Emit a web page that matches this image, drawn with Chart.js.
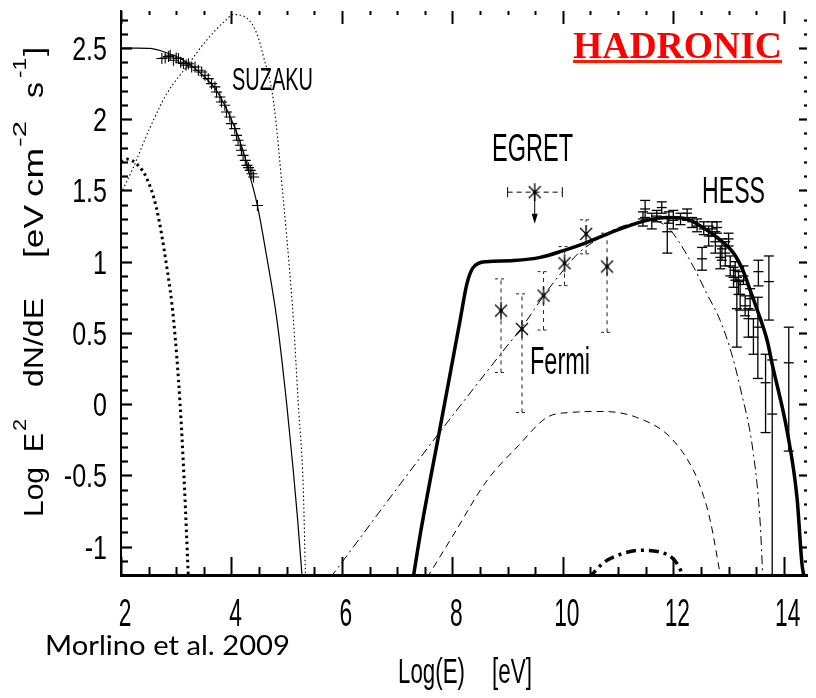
<!DOCTYPE html>
<html><head><meta charset="utf-8">
<script src="https://cdn.jsdelivr.net/npm/chart.js@4.4.1/dist/chart.umd.min.js"></script>
<style>html,body{margin:0;padding:0;background:#fff;}canvas{display:block}</style>
</head><body>
<canvas id="c" width="816" height="698"></canvas>
<script>
// ---------- axis ticks ----------
const xTickValues = [2, 4, 6, 8, 10, 12, 14];
const yTickValues = [-1, -0.5, 0, 0.5, 1, 1.5, 2, 2.5];

// ---------- model curves ----------
const syncX = [2.0, 2.3, 2.53, 2.8, 3.13, 3.45, 3.73, 4.03, 4.21, 4.34, 4.47, 4.64, 4.82, 5.0, 5.12, 5.2, 5.28];
const syncY = [2.50, 2.50, 2.497, 2.47, 2.414, 2.32, 2.20, 1.97, 1.78, 1.594, 1.394, 1.03, 0.60, 0.0, -0.47, -0.82, -1.22];

const thermX = [2.0, 2.07, 2.22, 2.53, 2.83, 3.19, 3.55, 3.91, 4.03, 4.28, 4.46, 4.58, 4.76, 4.94, 5.05, 5.12, 5.21, 5.30, 5.34];
const thermY = [1.48, 1.535, 1.66, 1.945, 2.18, 2.37, 2.555, 2.70, 2.735, 2.71, 2.60, 2.44, 2.13, 1.43, 0.95, 0.60, 0.0, -0.59, -1.22];

const boldDotX = [2.0, 2.1, 2.3, 2.46, 2.64, 2.83, 2.95, 3.07, 3.15, 3.22];
const boldDotY = [1.70, 1.72, 1.68, 1.59, 1.38, 0.96, 0.60, 0.0, -0.59, -1.22];

const totalX = [7.29, 7.42, 7.78, 8.14, 8.26, 8.36, 8.48, 8.62, 9.11, 9.59, 10.01, 10.44, 11.04, 11.52, 11.88, 12.25, 12.49, 12.79, 13.09, 13.27, 13.39, 13.52, 13.70, 13.79, 14.06, 14.24, 14.33, 14.37];
const totalY = [-1.22, -0.91, -0.16, 0.59, 0.84, 0.95, 0.99, 1.0, 1.008, 1.03, 1.078, 1.136, 1.23, 1.29, 1.31, 1.30, 1.25, 1.17, 1.06, 0.93, 0.80, 0.66, 0.445, 0.28, -0.19, -0.66, -1.125, -1.22];

const dashDotX = [5.79, 7.42, 8.87, 9.26, 9.65, 10.03, 10.31, 10.6, 10.9, 11.22, 11.6, 11.9, 12.1, 12.37, 12.6, 12.85, 13.05, 13.21, 13.45, 13.57, 13.62];
const dashDotY = [-1.22, -0.375, 0.35, 0.54, 0.76, 0.95, 1.07, 1.15, 1.22, 1.266, 1.29, 1.24, 1.14, 0.96, 0.78, 0.586, 0.36, 0.117, -0.35, -0.82, -1.22];

const dashX = [7.54, 8.0, 8.62, 9.2, 9.71, 10.13, 10.74, 11.34, 11.95, 12.37, 12.55, 12.67, 12.86];
const dashY = [-1.22, -0.93, -0.54, -0.29, -0.094, -0.059, -0.052, -0.094, -0.235, -0.47, -0.65, -0.82, -1.22];

const boldDashDotX = [10.47, 10.75, 11.04, 11.4, 11.88, 12.05, 12.2];
const boldDashDotY = [-1.22, -1.11, -1.055, -1.027, -1.055, -1.11, -1.22];

// ---------- data ----------
const suzakuX = [2.74, 2.80, 2.86, 2.89, 2.95, 3.00, 3.04, 3.08, 3.13, 3.18, 3.22, 3.28, 3.34, 3.40, 3.46, 3.52, 3.58, 3.64, 3.70, 3.73, 3.79, 3.82, 3.88, 3.91, 3.97, 4.00, 4.06, 4.09, 4.12, 4.16, 4.18, 4.21, 4.25, 4.28, 4.31, 4.34, 4.37, 4.40, 4.47];
const suzakuY = [2.426, 2.43, 2.44, 2.449, 2.414, 2.43, 2.426, 2.40, 2.391, 2.38, 2.39, 2.367, 2.367, 2.344, 2.332, 2.309, 2.285, 2.25, 2.227, 2.191, 2.156, 2.121, 2.098, 2.051, 2.016, 1.969, 1.934, 1.887, 1.852, 1.817, 1.782, 1.746, 1.711, 1.676, 1.66, 1.641, 1.617, 1.594, 1.394];

const fermiX = [8.88, 9.26, 9.65, 10.03, 10.42, 10.80];
const fermiY = [0.656, 0.527, 0.762, 0.989, 1.195, 0.966];
const fermiLo = [0.222, -0.059, 0.520, 0.832, 1.055, 0.504];
const fermiHi = [0.879, 0.774, 0.930, 1.106, 1.294, 1.20];

const egretX = [9.49];
const egretY = [1.488];
const egretXLo = [9.0];
const egretXHi = [9.99];
const egretLimit = [1.266];

const hessX  = [11.45, 11.49, 11.61, 11.70, 11.79, 11.89, 11.92, 12.00, 12.13, 12.25, 12.34, 12.43, 12.52, 12.55, 12.64, 12.70, 12.76, 12.79, 12.85, 12.88, 12.94, 13.00, 13.03, 13.09, 13.12, 13.15, 13.18, 13.21, 13.27, 13.30, 13.36, 13.39, 13.45, 13.53, 13.54, 13.67, 13.73, 13.79, 14.09];
const hessY  = [1.30, 1.37, 1.29, 1.32, 1.38, 1.21, 1.31, 1.29, 1.30, 1.34, 1.28, 1.25, 1.02, 1.23, 1.18, 1.23, 1.14, 1.24, 1.03, 1.09, 1.06, 1.16, 0.97, 0.89, 0.94, 0.67, 0.86, 0.77, 0.90, 0.69, 0.60, 0.74, 0.47, 0.54, 0.93, 0.15, 0.86, -0.07, 0.29];
const hessLo = [1.25, 1.31, 1.23, 1.28, 1.34, 1.06, 1.27, 1.23, 1.26, 1.29, 1.24, 1.21, 0.94, 1.19, 1.11, 1.18, 1.06, 1.20, 0.95, 1.01, 0.97, 1.11, 0.90, 0.82, 0.87, 0.40, 0.77, 0.66, 0.84, 0.62, 0.47, 0.66, 0.35, 0.18, 0.83, -0.20, 0.59, -1.30, -0.33];
const hessHi = [1.35, 1.43, 1.34, 1.36, 1.42, 1.31, 1.35, 1.36, 1.34, 1.37, 1.31, 1.30, 1.10, 1.28, 1.25, 1.28, 1.21, 1.28, 1.11, 1.16, 1.14, 1.20, 1.04, 0.96, 1.00, 0.89, 0.93, 0.87, 0.97, 0.76, 0.67, 0.81, 0.60, 0.75, 1.01, 0.35, 1.04, 0.31, 0.54];

// ---------- helpers ----------
const pts = (xs, ys) => xs.map((v, i) => ({x: v, y: ys[i]}));

function makeAsterisk() {
  const c = document.createElement('canvas');
  c.width = 16; c.height = 22;
  const g = c.getContext('2d');
  g.strokeStyle = '#000'; g.lineWidth = 1.3;
  g.beginPath();
  g.moveTo(8, 2); g.lineTo(8, 20);
  g.moveTo(2, 5); g.lineTo(14, 17);
  g.moveTo(14, 5); g.lineTo(2, 17);
  g.stroke();
  g.fillStyle = '#000';
  g.beginPath(); g.arc(8, 11, 1.8, 0, Math.PI * 2); g.fill();
  return c;
}
const asterisk = makeAsterisk();

function fitText(ctx, text, x, y, font, width, color) {
  ctx.save();
  ctx.font = font;
  ctx.fillStyle = color || '#000';
  ctx.textAlign = 'left';
  ctx.textBaseline = 'alphabetic';
  const w = ctx.measureText(text).width;
  ctx.translate(x, y);
  ctx.scale(width / w, 1);
  ctx.fillText(text, 0, 0);
  ctx.restore();
}
function scaledText(ctx, text, x, y, font, sx, align) {
  ctx.save();
  ctx.font = font;
  ctx.fillStyle = '#000';
  ctx.textAlign = align;
  ctx.textBaseline = 'alphabetic';
  ctx.translate(x, y);
  ctx.scale(sx, 1);
  ctx.fillText(text, 0, 0);
  ctx.restore();
}
function fitTextUp(ctx, text, baseX, startY, font, len) {
  ctx.save();
  ctx.font = font;
  ctx.fillStyle = '#000';
  ctx.textAlign = 'left';
  ctx.textBaseline = 'alphabetic';
  const w = ctx.measureText(text).width;
  ctx.translate(baseX, startY);
  ctx.rotate(-Math.PI / 2);
  ctx.scale(len / w, 1);
  ctx.fillText(text, 0, 0);
  ctx.restore();
}
function seg(ctx, x1, y1, x2, y2) { ctx.beginPath(); ctx.moveTo(x1, y1); ctx.lineTo(x2, y2); ctx.stroke(); }

const SANS = '"Liberation Sans", Arial, Helvetica, sans-serif';

// ---------- plugins ----------
const errorBars = {
  id: 'errorBars',
  afterDatasetsDraw(chart) {
    const {ctx, chartArea: a, scales: {x, y}} = chart;
    ctx.save();
    ctx.beginPath(); ctx.rect(a.left, a.top, a.right - a.left, a.bottom - a.top); ctx.clip();
    ctx.strokeStyle = '#000';
    // HESS
    ctx.lineWidth = 1.3; ctx.setLineDash([]);
    hessX.forEach((v, i) => {
      const px = x.getPixelForValue(v);
      const lo = y.getPixelForValue(hessLo[i]), hi = y.getPixelForValue(hessHi[i]);
      seg(ctx, px, lo, px, hi);
      seg(ctx, px - 5, lo, px + 5, lo);
      seg(ctx, px - 5, hi, px + 5, hi);
    });
    // Fermi
    ctx.strokeStyle = '#222'; ctx.lineWidth = 1;
    fermiX.forEach((v, i) => {
      const px = x.getPixelForValue(v);
      const lo = y.getPixelForValue(fermiLo[i]), hi = y.getPixelForValue(fermiHi[i]);
      ctx.setLineDash([4, 4]);
      seg(ctx, px, lo, px, hi);
      ctx.setLineDash([3, 3]);
      seg(ctx, px - 6, lo, px + 6, lo);
      seg(ctx, px - 6, hi, px + 6, hi);
    });
    // EGRET
    ctx.strokeStyle = '#000';
    egretX.forEach((v, i) => {
      const px = x.getPixelForValue(v), py = y.getPixelForValue(egretY[i]);
      const l = x.getPixelForValue(egretXLo[i]), r = x.getPixelForValue(egretXHi[i]);
      ctx.setLineDash([5, 4]);
      seg(ctx, l, py, r, py);
      ctx.setLineDash([]);
      seg(ctx, l, py - 5, l, py + 5);
      seg(ctx, r, py - 5, r, py + 5);
      const ty = y.getPixelForValue(egretLimit[i]);
      seg(ctx, px, py, px, ty - 8);
      ctx.fillStyle = '#000';
      ctx.beginPath(); ctx.moveTo(px - 3, ty - 10); ctx.lineTo(px + 3, ty - 10); ctx.lineTo(px, ty); ctx.closePath(); ctx.fill();
    });
    ctx.restore();
  }
};

const decor = {
  id: 'decor',
  afterDraw(chart) {
    const {ctx, chartArea: a, scales: {x, y}} = chart;
    ctx.save();
    ctx.strokeStyle = '#000';
    ctx.setLineDash([]);
    // x ticks (inward), minor every 0.5
    for (let i = 0; ; i++) {
      const v = x.min + i * 0.5;
      if (v > x.max + 1e-9) break;
      const px = Math.round(x.getPixelForValue(v)) + 0.5;
      const major = i % 4 === 0;
      ctx.lineWidth = 2;
      seg(ctx, px, a.bottom, px, a.bottom - (major ? 18 : 8));
      seg(ctx, px, a.top, px, a.top + (major ? 13 : 4));
    }
    // y ticks, minor every 0.1
    for (let i = 0; ; i++) {
      const v = -1.2 + i * 0.1;
      if (v > y.max + 1e-9) break;
      const py = Math.round(y.getPixelForValue(v)) + 0.5;
      const major = Math.abs(v * 2 - Math.round(v * 2)) < 1e-6;
      ctx.lineWidth = 2.2;
      seg(ctx, a.left, py, a.left + (major ? 11 : 7), py);
      seg(ctx, a.right, py, a.right - (major ? 8 : 3), py);
    }
    // tick labels from the scales
    x.ticks.forEach(t => {
      scaledText(ctx, String(t.value), x.getPixelForValue(t.value) + 4, a.bottom + 51, '38px ' + SANS, 0.6, 'center');
    });
    y.ticks.forEach(t => {
      scaledText(ctx, String(t.value), a.left - 14, y.getPixelForValue(t.value) + 12, '33px ' + SANS, 0.76, 'right');
    });
    // y axis title
    const T = '28px ' + SANS, S = '19px ' + SANS;
    fitTextUp(ctx, 'Log', 43, 517, T, 50);
    fitTextUp(ctx, 'E', 43, 452, T, 19);
    fitTextUp(ctx, '2', 26, 431, S, 12);
    fitTextUp(ctx, 'dN/dE', 43, 387, T, 89);
    fitTextUp(ctx, '[eV', 43, 258, T, 53);
    fitTextUp(ctx, 'cm', 43, 197, T, 49);
    fitTextUp(ctx, '-2', 26, 147, S, 26);
    fitTextUp(ctx, 's', 43, 98, T, 16);
    fitTextUp(ctx, '-1', 26, 78, S, 20);
    fitTextUp(ctx, ']', 43, 56, T, 9);
    // x axis title
    fitText(ctx, 'Log(E)', 398, 683, '35px ' + SANS, 67);
    fitText(ctx, '[eV]', 492, 683, '35px ' + SANS, 40);
    // annotations
    fitText(ctx, 'SUZAKU', 232, 90, '32px ' + SANS, 81);
    fitText(ctx, 'EGRET', 492, 161, '38px ' + SANS, 81);
    fitText(ctx, 'HESS', 702, 203, '37px ' + SANS, 63);
    fitText(ctx, 'Fermi', 530, 374, '38px ' + SANS, 60);
    fitText(ctx, 'HADRONIC', 573, 58, 'bold 38px "Liberation Serif", "Times New Roman", serif', 209, '#ff0000');
    ctx.strokeStyle = '#ff1a00'; ctx.lineWidth = 3;
    seg(ctx, 573, 61.5, 782, 61.5);
    fitText(ctx, 'Morlino et al. 2009', 45, 655, '27px Lato, "Open Sans", sans-serif', 245);
    ctx.restore();
  }
};

// ---------- chart ----------
const lineDs = (data, width, dash) => ({
  data, showLine: true, borderColor: '#000', borderWidth: width, borderDash: dash,
  pointRadius: 0, fill: false, cubicInterpolationMode: 'monotone'
});
const zeroPad = s => { s.paddingTop = 0; s.paddingBottom = 0; s.paddingLeft = 0; s.paddingRight = 0; };

new Chart(document.getElementById('c'), {
  type: 'scatter',
  data: {
    datasets: [
      {label: 'HESS', data: pts(hessX, hessY), pointStyle: 'line', pointRadius: 5, borderColor: '#000', backgroundColor: '#000', borderWidth: 1.3},
      {label: 'Fermi', data: pts(fermiX, fermiY), pointStyle: asterisk, pointRadius: 6},
      {label: 'EGRET', data: pts(egretX, egretY), pointStyle: asterisk, pointRadius: 6},
      {label: 'SUZAKU', data: pts(suzakuX, suzakuY), pointStyle: 'cross', pointRadius: 5.5, borderColor: '#000', borderWidth: 1.1},
      Object.assign({label: 'Total hadronic'}, lineDs(pts(totalX, totalY), 3.5, [])),
      Object.assign({label: 'Synchrotron'}, lineDs(pts(syncX, syncY), 1.2, [])),
      Object.assign({label: 'Thermal'}, lineDs(pts(thermX, thermY), 1.1, [1.5, 2.5])),
      Object.assign({label: 'Bold dotted'}, lineDs(pts(boldDotX, boldDotY), 3, [2.5, 3.5])),
      Object.assign({label: 'Dash-dot'}, lineDs(pts(dashDotX, dashDotY), 1, [9, 4, 2, 4])),
      Object.assign({label: 'Dashed'}, lineDs(pts(dashX, dashY), 1, [7, 5])),
      Object.assign({label: 'Bold dash-dot'}, lineDs(pts(boldDashDotX, boldDashDotY), 3.5, [10, 5, 3, 5]))
    ]
  },
  options: {
    responsive: false,
    animation: false,
    events: [],
    layout: {padding: {left: 0, right: 9, top: 11, bottom: 0}},
    plugins: {legend: {display: false}, tooltip: {enabled: false}},
    scales: {
      x: {
        type: 'linear', min: 2, max: 14.42,
        afterBuildTicks: s => { s.ticks = xTickValues.map(v => ({value: v})); },
        afterFit: s => { s.height = 123; zeroPad(s); },
        grid: {display: false, drawTicks: false},
        border: {display: true, color: '#000', width: 3},
        ticks: {display: false}
      },
      y: {
        type: 'linear', min: -1.2, max: 2.76,
        afterBuildTicks: s => { s.ticks = yTickValues.map(v => ({value: v})); },
        afterFit: s => { s.width = 121; zeroPad(s); },
        grid: {display: false, drawTicks: false},
        border: {display: true, color: '#000', width: 2},
        ticks: {display: false}
      }
    }
  },
  plugins: [errorBars, decor]
});
</script>
</body></html>
